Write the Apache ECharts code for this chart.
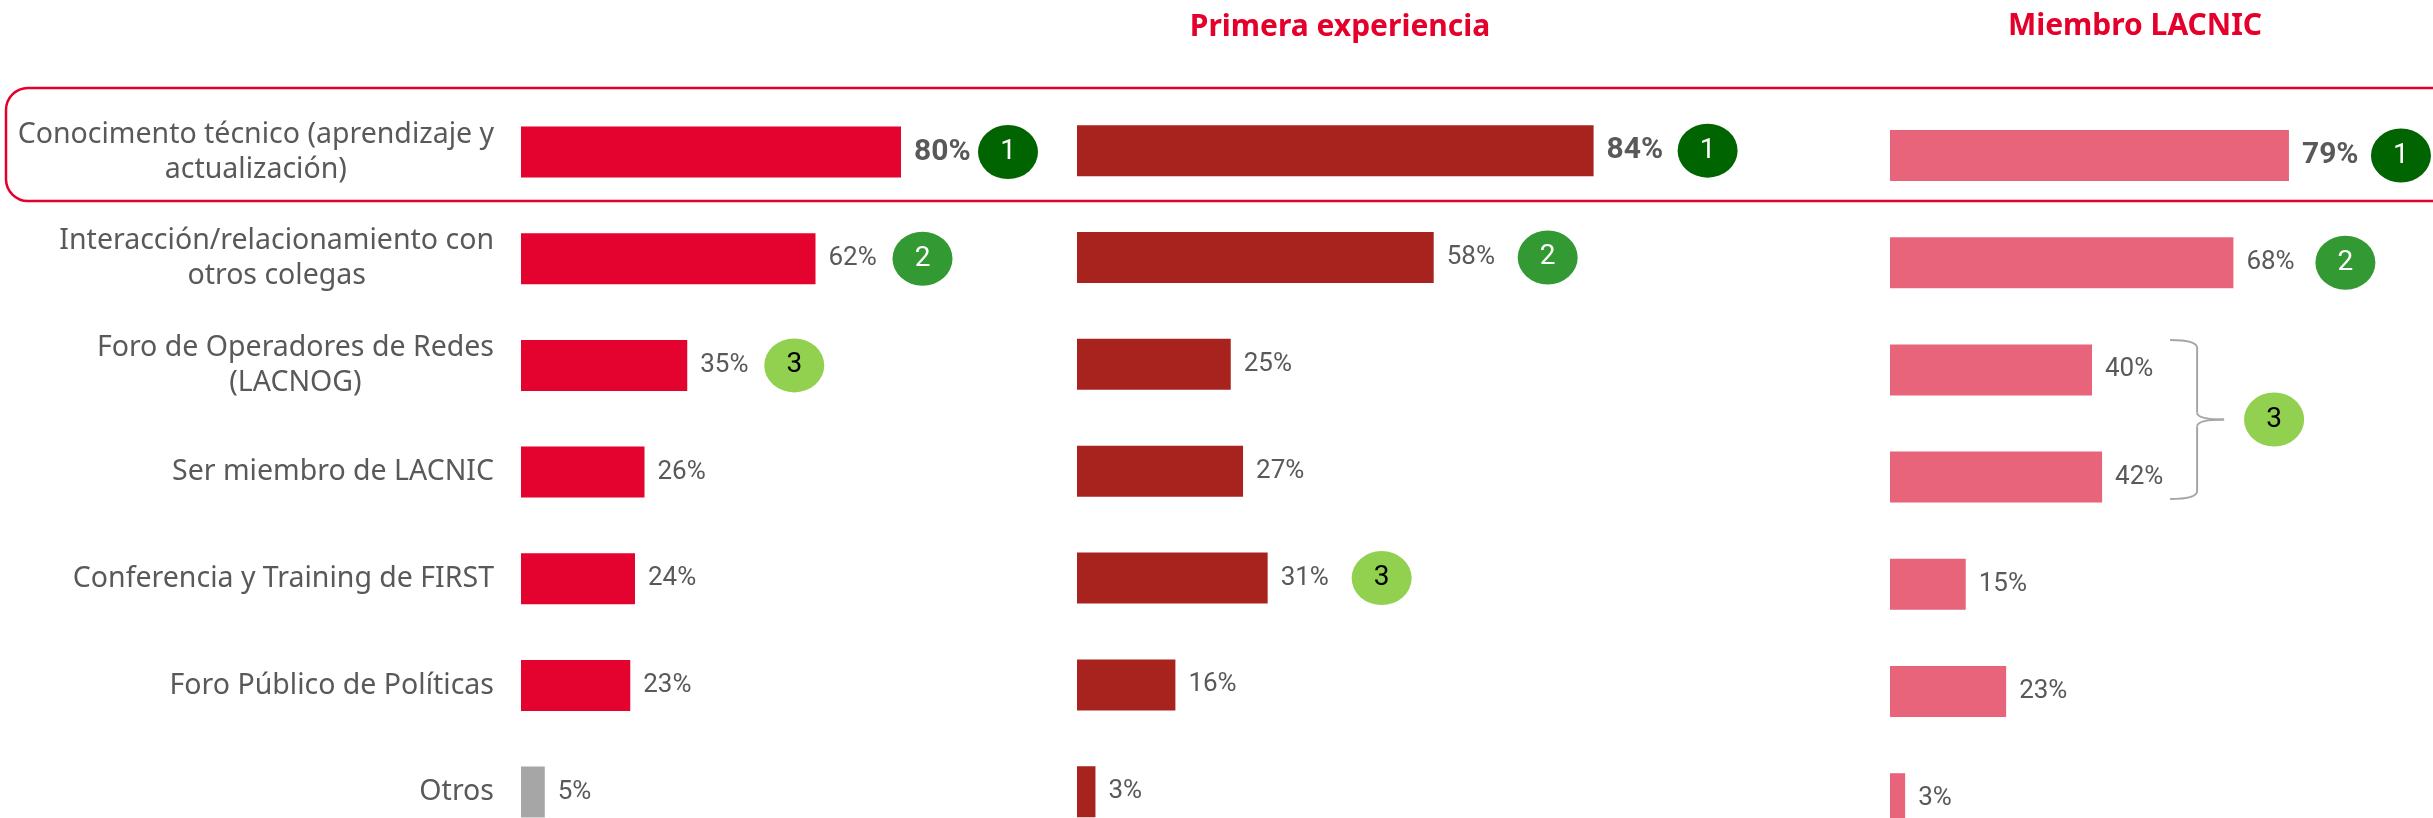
<!DOCTYPE html>
<html>
<head>
<meta charset="utf-8">
<title>Motivos de participación</title>
<script src="https://cdn.jsdelivr.net/npm/echarts@6/dist/echarts.min.js"></script>
<style>
  html, body { margin: 0; padding: 0; background: #fff; overflow: hidden; }
  /* el grafico original sigue por debajo del borde: el lienzo es mas alto que la ventana */
  #chart { width: 2433px; height: 900px; }
</style>
</head>
<body>
<div id="chart"></div>
<script>
const categorias = [
  'Conocimento técnico (aprendizaje y\nactualización)',
  'Interacción/relacionamiento con\notros colegas',
  'Foro de Operadores de Redes\n(LACNOG)',
  'Ser miembro de LACNIC',
  'Conferencia y Training de FIRST',
  'Foro Público de Políticas',
  'Otros'
];
const total = [80, 62, 35, 26, 24, 23, 5];
const primeraExperiencia = [84, 58, 25, 27, 31, 16, 3];
const miembroLacnic = [79, 68, 40, 42, 15, 23, 3];
// puesto marcado con circulo (null = sin marca)
const rankTotal = [1, 2, 3, null, null, null, null];
const rankPrimera = [1, 2, null, null, 3, null, null];
const rankMiembro = [1, 2, null, null, null, null, null];
const grupoMiembro = [2, 3]; // filas unidas por la llave, puesto 3
const titulos = ['Primera experiencia', 'Miembro LACNIC'];

const GRIS = '#595959';
const FUENTE = '"Noto Sans", sans-serif';
const FUENTE_NUM = 'Roboto, sans-serif';
const colorRank = { 1: '#006400', 2: '#339933', 3: '#92D050' };
const textoRank = { 1: '#ffffff', 2: '#ffffff', 3: '#000000' };

const paneles = [
  { left: 521, top: 98.7, width: 475, height: 746.7, color: '#E4032E', datos: total, rank: rankTotal, offset: 107 },
  { left: 1077, top: 97.2, width: 615, height: 748, color: '#A8231E', datos: primeraExperiencia, rank: rankPrimera, offset: 114 },
  { left: 1890, top: 101.9, width: 505, height: 750.4, color: '#E8647B', datos: miembroLacnic, rank: rankMiembro, offset: 112 }
];

let myChart = echarts.init(document.getElementById('chart'));

let grid = paneles.map(p => ({ left: p.left, top: p.top, width: p.width, height: p.height, containLabel: false }));
let xAxis = paneles.map((p, i) => ({ type: 'value', gridIndex: i, min: 0, max: 100, show: false }));
let yAxis = paneles.map((p, i) => ({
  type: 'category',
  gridIndex: i,
  inverse: true,
  data: categorias,
  show: i === 0,
  axisLine: { show: false },
  axisTick: { show: false },
  splitLine: { show: false },
  axisLabel: {
    align: 'right',
    margin: 27,
    formatter: v => v.split('\n').map(l => '{c|' + l + '}').join('\n'),
    rich: { c: { align: 'center', fontSize: 28.5, fontFamily: FUENTE, color: GRIS, lineHeight: 35 } }
  }
}));

let series = [];
paneles.forEach((p, i) => {
  series.push({
    type: 'bar',
    xAxisIndex: i,
    yAxisIndex: i,
    barWidth: 51,
    itemStyle: { color: p.color },
    label: {
      show: true,
      position: 'right',
      distance: 13,
      formatter: '{c}%',
      color: GRIS,
      fontSize: 26,
      fontFamily: FUENTE_NUM
    },
    data: p.datos.map((v, k) => {
      let item = { value: v };
      if (k === 0) item.label = { fontWeight: 'bold', fontSize: 30 };
      if (i === 0 && k === categorias.length - 1) item.itemStyle = { color: '#A6A6A6' };
      return item;
    })
  });
  series.push({
    type: 'scatter',
    xAxisIndex: i,
    yAxisIndex: i,
    symbol: 'circle',
    symbolSize: [60, 54],
    symbolOffset: [p.offset, 0],
    z: 5,
    itemStyle: { opacity: 1 },
    label: {
      show: true,
      position: 'inside',
      fontSize: 28,
      fontFamily: FUENTE_NUM,
      formatter: d => d.value[2]
    },
    data: p.rank.map((r, k) => r ? {
      value: [p.datos[k], k, r],
      itemStyle: { color: colorRank[r], opacity: 1 },
      label: { color: textoRank[r] }
    } : null).filter(Boolean)
  });
});

myChart.setOption({
  animation: false,
  grid: grid,
  xAxis: xAxis,
  yAxis: yAxis,
  series: series
});

// anotaciones: recuadro del primer motivo, titulos, llave del panel 3
let graficos = [
  {
    type: 'rect', z: -1,
    shape: { x: 6, y: 88, width: 2500, height: 113, r: 22 },
    style: { fill: 'none', stroke: '#E4002B', lineWidth: 2.5 }
  }
];
[[1340, 27], [2135, 26]].forEach((pos, k) => {
  graficos.push({
    type: 'text', x: pos[0], y: pos[1],
    style: { text: titulos[k], align: 'center', verticalAlign: 'middle', fill: '#E4002B', font: 'bold 30px ' + FUENTE }
  });
});

let pA = myChart.convertToPixel({ xAxisIndex: 2, yAxisIndex: 2 }, [Math.max(miembroLacnic[grupoMiembro[0]], miembroLacnic[grupoMiembro[1]]), grupoMiembro[0]]);
let pB = myChart.convertToPixel({ xAxisIndex: 2, yAxisIndex: 2 }, [0, grupoMiembro[1]]);
let yTop = pA[1] - 30, yBot = pB[1] + 22, yMid = (yTop + yBot) / 2;
let xL = pA[0] + 68, xS = xL + 27, xT = xS + 27;
const llave = { fill: 'none', stroke: '#A6A6A6', lineWidth: 2 };
graficos.push(
  { type: 'bezierCurve', shape: { x1: xL, y1: yTop, cpx1: xS, cpy1: yTop, x2: xS, y2: yTop + 8 }, style: llave },
  { type: 'line', shape: { x1: xS, y1: yTop + 8, x2: xS, y2: yMid - 7 }, style: llave },
  { type: 'bezierCurve', shape: { x1: xS, y1: yMid - 7, cpx1: xS, cpy1: yMid, x2: xT, y2: yMid }, style: llave },
  { type: 'bezierCurve', shape: { x1: xT, y1: yMid, cpx1: xS, cpy1: yMid, x2: xS, y2: yMid + 7 }, style: llave },
  { type: 'line', shape: { x1: xS, y1: yMid + 7, x2: xS, y2: yBot - 8 }, style: llave },
  { type: 'bezierCurve', shape: { x1: xS, y1: yBot - 8, cpx1: xS, cpy1: yBot, x2: xL, y2: yBot }, style: llave },
  {
    type: 'ellipse',
    shape: { cx: xT + 50, cy: yMid, rx: 30, ry: 27 },
    style: { fill: colorRank[3] },
    textContent: { style: { text: '3', fill: textoRank[3], font: '28px ' + FUENTE_NUM } },
    textConfig: { position: 'inside' }
  }
);
myChart.setOption({ graphic: graficos });
</script>
</body>
</html>
